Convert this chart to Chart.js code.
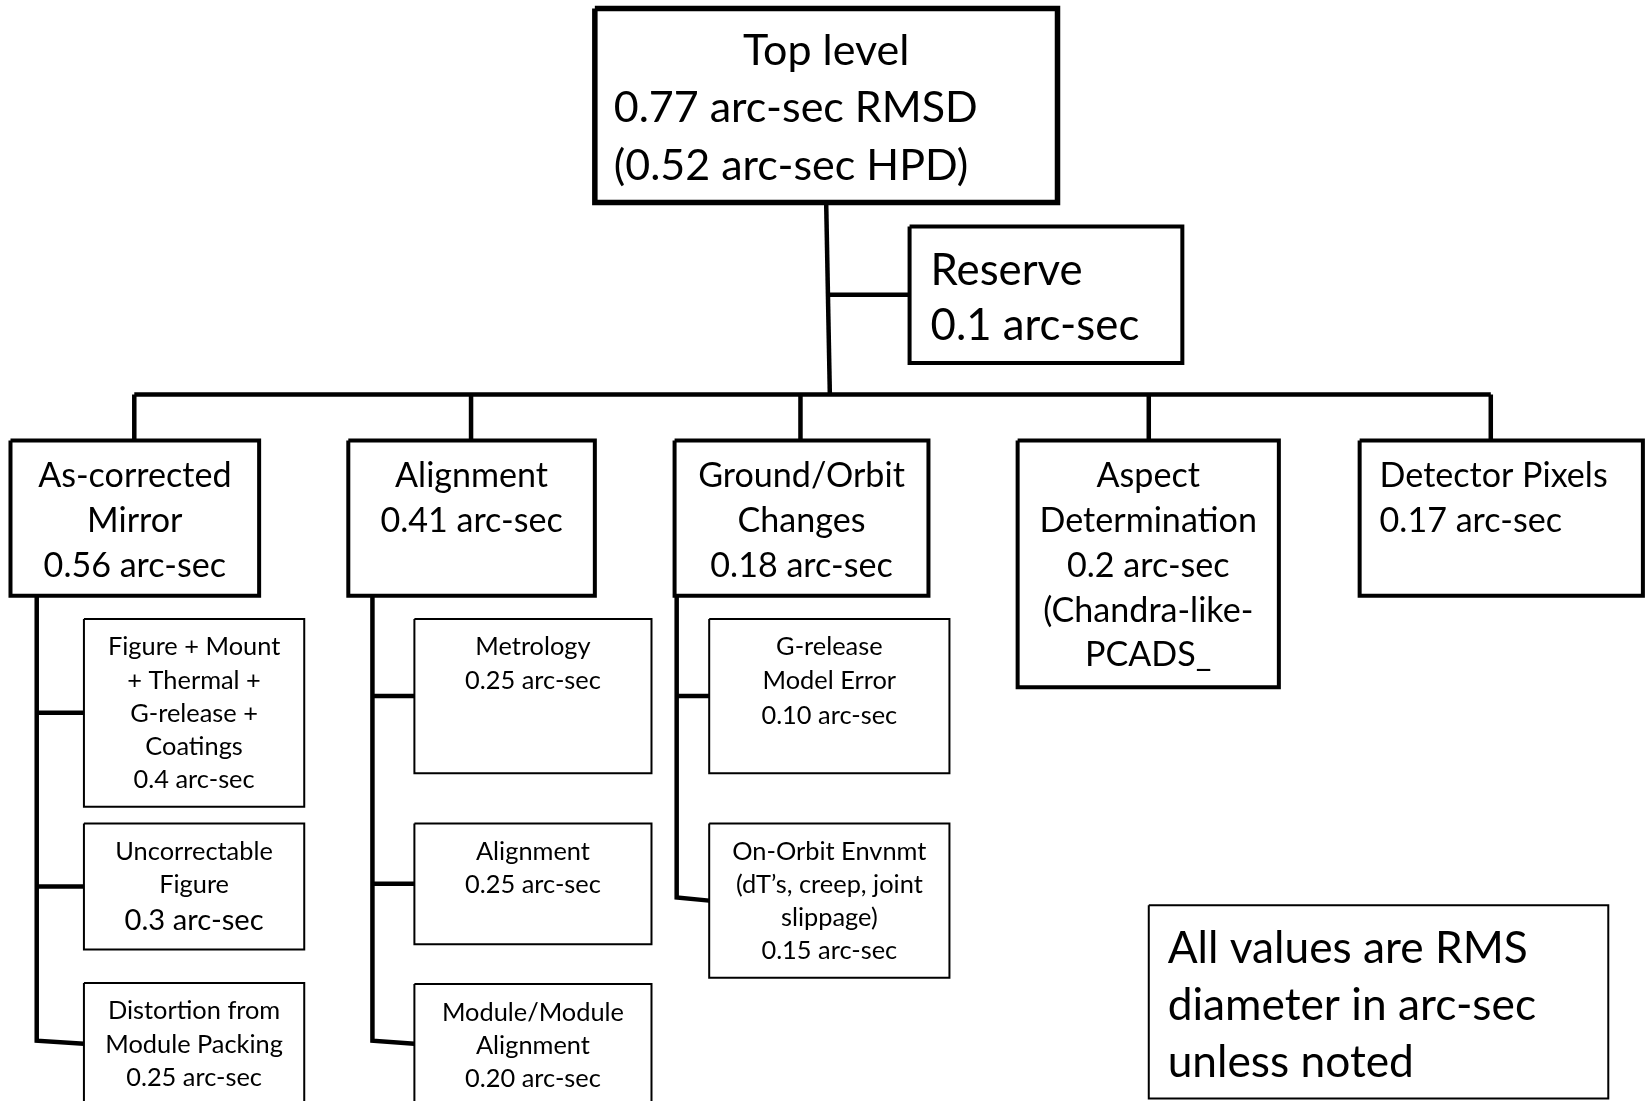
<!DOCTYPE html>
<html>
<head>
<meta charset="utf-8">
<script src="https://cdn.jsdelivr.net/npm/chart.js@4.4.0/dist/chart.umd.min.js"></script>
<style>
  html, body { margin: 0; padding: 0; background: #fff; overflow: hidden; }
  canvas { display: block; }
</style>
</head>
<body>
<canvas id="tree" width="1645" height="1101"></canvas>
<script>
// ---- data ----
const topTitle = 'Top level';
const topRmsd = '0.77';
const topHpd = '0.52';
const reserveValue = '0.1';

const branchNames = [['As-corrected', 'Mirror'], ['Alignment'], ['Ground/Orbit', 'Changes'], ['Aspect', 'Determination'], ['Detector Pixels']];
const branchValues = ['0.56', '0.41', '0.18', '0.2', '0.17'];
const branchNotes = [[], [], [], ['(Chandra-like-', 'PCADS_'], []];

const mirrorItems = [['Figure + Mount', '+ Thermal +', 'G-release +', 'Coatings'], ['Uncorrectable', 'Figure'], ['Distortion from', 'Module Packing']];
const mirrorValues = ['0.4', '0.3', '0.25'];
const alignItems = [['Metrology'], ['Alignment'], ['Module/Module', 'Alignment']];
const alignValues = ['0.25', '0.25', '0.20'];
const orbitItems = [['G-release', 'Model Error'], ['On-Orbit Envnmt', '(dT\u2019s, creep, joint', 'slippage)']];
const orbitValues = ['0.10', '0.15'];

const noteLines = ['All values are RMS', 'diameter in arc-sec', 'unless noted'];
const unit = ' arc-sec';

// ---- layout (chart units) ----
const W = 1568, H = 1049.5;
const FONT = 'Lato, "Open Sans", sans-serif';
const styles = {
    top:    { size: 41,   lw: 5.5, off: 41, lh: 54.5 },
    reserve:{ size: 41.7, lw: 4,   off: 42, lh: 53 },
    branch: { size: 32.5, lw: 4,   off: 34, lh: 42.7 },
    leaf:   { size: 24.2, lw: 2,   off: 27, lh: 31.5 },
    note:   { size: 42.2, lw: 2,   off: 41, lh: 54.5 }
};
const topBox = [567, 8, 1008, 193];
const reserveBox = [867, 216, 1127, 346];
const branchBoxes = [[10, 420, 247, 568], [332, 420, 567, 568], [643, 420, 885, 568], [970, 420, 1219, 655], [1296, 420, 1566, 568]];
const dropX = [128, 449, 763, 1095, 1421];
const busY = 376;
const spineX = [35, 355, 645];
const leafCols = [[80, 290], [395, 621], [676, 905]];
const leafRows = [
    [[590, 769], [785, 905], [937, 1053]],
    [[590, 737], [785, 900], [938, 1052]],
    [[590, 737], [785, 932]]
];
const noteBox = [1095, 863, 1533, 1047];

// ---- build nodes ----
const nodes = [];
nodes.push({ box: topBox, style: 'top', lines: [
    { text: topTitle },
    { text: topRmsd + unit + ' RMSD', left: 585 },
    { text: '(' + topHpd + unit + ' HPD)', left: 585 }
] });
nodes.push({ box: reserveBox, style: 'reserve', lines: [
    { text: 'Reserve', left: 887 },
    { text: reserveValue + unit, left: 887 }
] });
branchNames.forEach((name, i) => {
    const left = i === 4 ? 1315 : null;
    const lines = name.concat([branchValues[i] + unit], branchNotes[i]).map(t => ({ text: t, left: left }));
    nodes.push({ box: branchBoxes[i], style: 'branch', lines: lines });
});
[[mirrorItems, mirrorValues], [alignItems, alignValues], [orbitItems, orbitValues]].forEach((grp, c) => {
    grp[0].forEach((item, r) => {
        const lines = item.map(t => ({ text: t }));
        const v = { text: grp[1][r] + unit };
        if (c === 0 && r === 1) { v.size = 27.8; v.dy = 3; }
        if (c === 2 && r === 0) { v.dy = 2; }
        lines.push(v);
        const row = leafRows[c][r];
        nodes.push({ box: [leafCols[c][0], row[0], leafCols[c][1], row[1]], style: 'leaf', lines: lines });
    });
});
nodes.push({ box: noteBox, style: 'note', lines: noteLines.map(t => ({ text: t, left: 1113 })) });

// ---- datasets ----
function rect(b) {
    return [{ x: b[0], y: b[1] }, { x: b[2], y: b[1] }, { x: b[2], y: b[3] }, { x: b[0], y: b[3] }, { x: b[0], y: b[1] }];
}
function path(points, lw) {
    return { data: points.map(p => ({ x: p[0], y: p[1] })), showLine: true, borderColor: '#000', borderWidth: lw,
             pointRadius: 0, borderJoinStyle: 'miter', borderCapStyle: 'butt', tension: 0, clip: false };
}

const datasets = [];
nodes.forEach(n => {
    const ds = path([], styles[n.style].lw);
    ds.data = rect(n.box);
    ds.clip = 0;
    datasets.push(ds);
});

// connectors
const topMidX = (topBox[0] + topBox[2]) / 2;
datasets.push(path([[topMidX, topBox[3]], [791, busY]], 4.5));
datasets.push(path([[790, (reserveBox[1] + reserveBox[3]) / 2], [reserveBox[0], (reserveBox[1] + reserveBox[3]) / 2]], 4.5));
datasets.push(path([[dropX[0], busY], [dropX[4], busY]], 4.5));
dropX.forEach((x, i) => datasets.push(path([[x, busY], [x, branchBoxes[i][1]]], 4.5)));
leafRows.forEach((rows, c) => {
    const sx = spineX[c];
    const mids = rows.map(r => (r[0] + r[1]) / 2);
    const last = mids[mids.length - 1];
    datasets.push(path([[sx, branchBoxes[c][3]], [sx, last - 3], [leafCols[c][0], last]], 4.5));
    mids.slice(0, -1).forEach(m => datasets.push(path([[sx, m], [leafCols[c][0], m]], 4.5)));
});

// ---- text plugin ----
const boxText = {
    id: 'boxText',
    afterDatasetsDraw(chart) {
        const ctx = chart.ctx;
        const xs = chart.scales.x, ys = chart.scales.y;
        const k = chart.chartArea.width / W;
        ctx.save();
        ctx.fillStyle = '#000';
        ctx.textBaseline = 'middle';
        nodes.forEach(n => {
            const st = styles[n.style];
            const cx = (n.box[0] + n.box[2]) / 2;
            n.lines.forEach((ln, i) => {
                const size = (ln.size || st.size) * k;
                ctx.font = size + 'px ' + FONT;
                const y = ys.getPixelForValue(n.box[1] + st.off + i * st.lh + (ln.dy || 0));
                if (ln.left != null) {
                    ctx.textAlign = 'left';
                    ctx.fillText(ln.text, xs.getPixelForValue(ln.left), y);
                } else {
                    ctx.textAlign = 'center';
                    ctx.fillText(ln.text, xs.getPixelForValue(cx), y);
                }
            });
        });
        ctx.restore();
    }
};

new Chart(document.getElementById('tree'), {
    type: 'scatter',
    data: { datasets: datasets },
    options: {
        responsive: false,
        animation: false,
        devicePixelRatio: 1,
        layout: { padding: 0 },
        plugins: { legend: { display: false }, tooltip: { enabled: false } },
        scales: {
            x: { type: 'linear', min: 0, max: W, display: false },
            y: { type: 'linear', min: 0, max: H, reverse: true, display: false }
        }
    },
    plugins: [boxText]
});
</script>
</body>
</html>
